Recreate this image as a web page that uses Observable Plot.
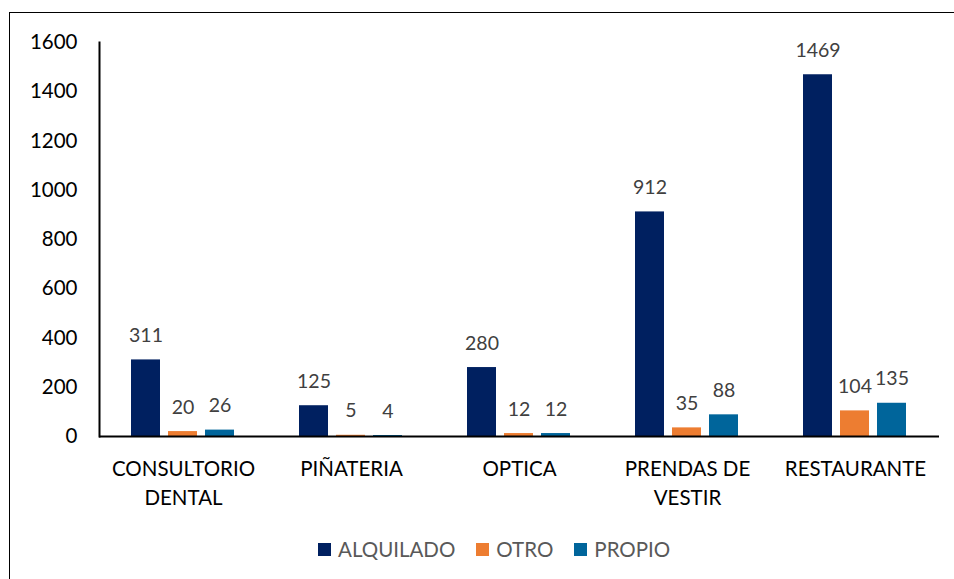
<!DOCTYPE html>
<html>
<head>
<meta charset="utf-8">
<script src="https://cdn.jsdelivr.net/npm/d3@7"></script>
<script src="https://cdn.jsdelivr.net/npm/@observablehq/plot@0.6"></script>
<style>
  html, body { margin: 0; padding: 0; background: #fff; overflow: hidden; width: 954px; height: 579px; }
  #frame { position: absolute; left: 9px; top: 12px; width: 1000px; height: 700px; border: 1px solid #000; box-sizing: border-box; }
  #chart { position: absolute; left: 0; top: 0; }
  #legend { position: absolute; left: 318px; top: 537px; display: flex; align-items: center; font-family: Lato, "Liberation Sans", sans-serif; font-size: 20.5px; color: #595959; }
  .item { display: flex; align-items: center; margin-right: 21px; }
  .sw { width: 13px; height: 13px; margin-right: 7px; }
</style>
</head>
<body>
<div id="frame"></div>
<div id="chart"></div>
<div id="legend"></div>
<script>
const categories = ["CONSULTORIO DENTAL", "PIÑATERIA", "OPTICA", "PRENDAS DE VESTIR", "RESTAURANTE"];
const categoryLabels = ["CONSULTORIO\nDENTAL", "PIÑATERIA", "OPTICA", "PRENDAS DE\nVESTIR", "RESTAURANTE"];
const series = ["ALQUILADO", "OTRO", "PROPIO"];
const alquilado = [311, 125, 280, 912, 1469];
const otro = [20, 5, 12, 35, 104];
const propio = [26, 4, 12, 88, 135];
const yTicks = [0, 200, 400, 600, 800, 1000, 1200, 1400, 1600];
const colors = ["#002060", "#ED7D31", "#00659B"];

const valuesBySeries = [alquilado, otro, propio];
const data = [];
categories.forEach((c, i) => {
  series.forEach((s, j) => {
    data.push({category: c, series: s, value: valuesBySeries[j][i]});
  });
});

const chart = Plot.plot({
  width: 954,
  height: 520,
  marginLeft: 97,
  marginRight: 14,
  marginTop: 42,
  marginBottom: 84,
  style: {fontFamily: "Lato, 'Liberation Sans', sans-serif", fontSize: "20.5px", color: "#000", background: "transparent"},
  fx: {domain: categories, padding: 0},
  x: {domain: series, paddingInner: 0.21, paddingOuter: 0.86, axis: null},
  y: {domain: [0, 1600]},
  color: {domain: series, range: colors},
  marks: [
    Plot.barY(data, {fx: "category", x: "series", y: "value", fill: "series"}),
    Plot.text(data, {fx: "category", x: "series", y: "value", text: d => String(d.value), lineAnchor: "bottom", dy: -18, fill: "#404040", fontSize: 19.5}),
    Plot.ruleY([0], {stroke: "#000", strokeWidth: 2}),
    Plot.axisY({ticks: yTicks, tickSize: 0, tickPadding: 22, label: null, fontSize: 20.5, fill: "#000", tickFormat: d => String(d)}),
    Plot.axisFx({anchor: "bottom", tickSize: 0, tickPadding: 19, label: null, fontSize: 20.5, fill: "#000", lineHeight: 1.42,
      tickFormat: d => categoryLabels[categories.indexOf(d)]}),
    Plot.frame({anchor: "left", facetAnchor: "left", stroke: "#000", strokeWidth: 2})
  ]
});
document.getElementById("chart").appendChild(chart);

const legend = document.getElementById("legend");
series.forEach((s, i) => {
  const item = document.createElement("div");
  item.className = "item";
  const sw = document.createElement("div");
  sw.className = "sw";
  sw.style.background = colors[i];
  const t = document.createElement("span");
  t.textContent = s;
  item.appendChild(sw);
  item.appendChild(t);
  legend.appendChild(item);
});
</script>
</body>
</html>
